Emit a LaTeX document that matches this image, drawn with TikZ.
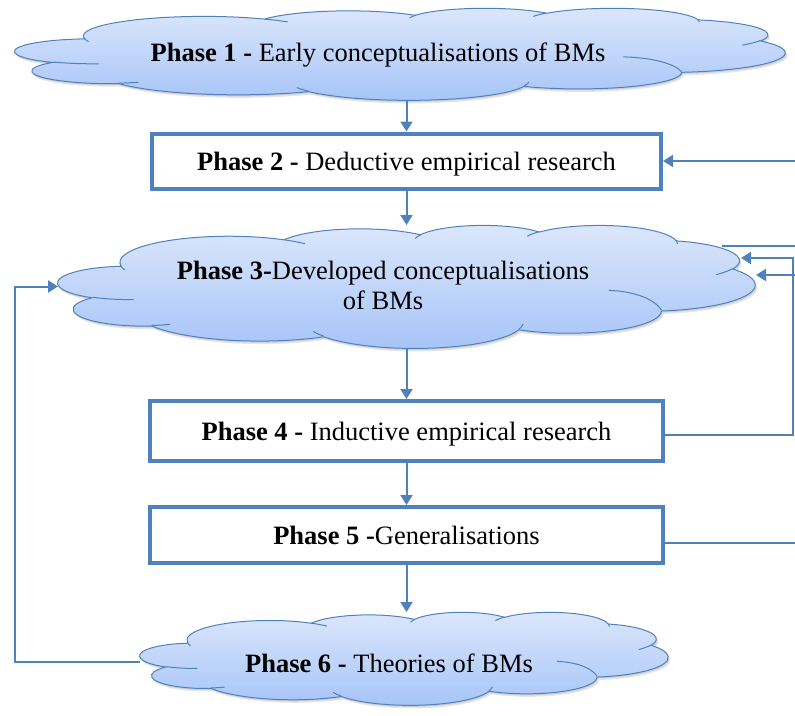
\documentclass[tikz,border=0pt]{standalone}
\usepackage{fontspec}
\setmainfont{Liberation Serif}
\usetikzlibrary{arrows.meta}

\definecolor{edge}{RGB}{79,129,189}
\definecolor{cloudtop}{RGB}{220,231,251}
\definecolor{cloudbot}{RGB}{166,196,248}

\tikzset{
  % elliptical arc given by radii, visual start angle and sweep
  oarc/.style n args={4}{insert path={
    arc[start angle={atan2((#1)*sin(#3),(#2)*cos(#3))},
        delta angle={mod(atan2((#1)*sin((#3)+(#4)),(#2)*cos((#3)+(#4)))-atan2((#1)*sin(#3),(#2)*cos(#3))+720,360)},
        x radius=#1, y radius=#2]}},
  % outline of a cloud in a 43.2 x 43.2 frame, starting at (3.9,14.37)
  cloudbody/.style={insert path={
    [oarc={6.753}{9.190}{-190.4875}{123.7805}]
    [oarc={5.333}{7.267}{-144.1024}{89.9452}]
    [oarc={4.365}{5.945}{-145.8079}{99.7230}]
    [oarc={4.857}{6.595}{-130.9861}{117.2417}]
    [oarc={5.333}{7.273}{-78.7089}{109.0269}]
    [oarc={6.775}{9.220}{-46.2673}{130.2690}]
    [oarc={5.785}{7.867}{0.6250}{114.0333}]
    [oarc={6.752}{9.215}{22.4516}{115.1726}]
    [oarc={7.720}{10.543}{66.2426}{75.7110}]
    [oarc={4.360}{5.918}{-274.9421}{146.7356}]
    [oarc={4.345}{5.945}{-246.8285}{152.5189}]
    -- cycle}},
  % inner creases, starting at (4.693,26.177)
  creases/.style={insert path={
    [oarc={4.345}{5.945}{86.7420}{26.4295}]
    (6.928,34.899) [oarc={4.360}{5.918}{73.6105}{11.4475}]
    (16.478,39.090) [oarc={6.752}{9.215}{137.6242}{14.0811}]
    (28.827,34.751) [oarc={6.752}{9.215}{6.4533}{15.9984}]
    (34.129,22.954) .. controls (35.8,23.3) and (37.0,26.2) .. (37.4,29.9)
    (41.798,15.354) [oarc={5.333}{7.273}{30.3180}{21.4124}]
    (38.324,5.426) [oarc={4.857}{6.595}{-13.7443}{14.8524}]
    (29.078,3.952) [oarc={4.857}{6.595}{-149.1815}{18.1889}]
    (22.141,4.720) [oarc={4.365}{5.945}{-163.4943}{17.6953}]
    (14.000,5.192) [oarc={6.753}{9.190}{-66.7070}{12.3194}]
    (4.127,15.789) [oarc={6.753}{9.190}{157.6544}{11.8582}]}},
  cloudline/.style={draw=edge, line width=1pt},
  phasebox/.style={draw=edge, line width=4pt, fill=white, inner sep=0pt, text depth=0pt},
  phasetext/.style={align=center, inner sep=0pt},
  frame/.style={inner sep=0pt, outer sep=0pt, rectangle},
  arr/.style={draw=edge, line width=2pt, -{Triangle[length=10pt,width=12pt]}},
  link/.style={draw=edge, line width=2pt},
  every node/.style={font=\fontsize{26.5}{30}\selectfont},
}

% cloud named #1 in the frame with top left corner (#2,#3), width #4, height #5
\newcommand\drawcloud[5]{%
  \begin{scope}[shift={(#2+2,#3+3)}, xscale=#4/43.2, yscale=#5/43.2]
    \fill[black, opacity=0.10] (3.9,14.37) [cloudbody];
  \end{scope}
  \begin{scope}[shift={(#2+1,#3+1.5)}, xscale=#4/43.2, yscale=#5/43.2]
    \fill[black, opacity=0.10] (3.9,14.37) [cloudbody];
  \end{scope}
  \begin{scope}[shift={(#2,#3)}, xscale=#4/43.2, yscale=#5/43.2]
    \path[cloudline, top color=cloudtop, bottom color=cloudbot] (3.9,14.37) [cloudbody];
    \draw[cloudline] (4.693,26.177) [creases];
  \end{scope}
  \node[frame, minimum width=#4, minimum height=#5] (#1) at (#2+#4/2,#3+#5/2) {};
}

\begin{document}
\begin{tikzpicture}[x=1pt, y=-1pt]
\useasboundingbox (0,0) rectangle (795,715);

% clouds
\drawcloud{c1}{15}{8}{770}{92}
\drawcloud{c3}{58}{225}{697}{123}
\drawcloud{c6}{140}{612}{528}{93}

\node[phasetext] (t1) at (378,55.5) {\textbf{Phase 1 -} Early conceptualisations of BMs};
\node[phasetext] (t3) at (383,285) {\textbf{Phase 3-}Developed conceptualisations\\of BMs};
\node[phasetext] (t6) at (389,663) {\textbf{Phase 6 -} Theories of BMs};

% boxes
\node[phasebox, minimum width=509, minimum height=55] (b2) at (406.5,161)
  {\textbf{Phase 2 -} Deductive empirical research};
\node[phasebox, minimum width=513, minimum height=60] (b4) at (406.5,431)
  {\textbf{Phase 4 -} Inductive empirical research};
\node[phasebox, minimum width=513, minimum height=56] (b5) at (406.5,535)
  {\textbf{Phase 5 -}Generalisations};

% free ends at the right and left margins
\coordinate (rgt) at (795,0);
\coordinate (lft) at (15,0);
\coordinate (turn) at (793,0);
\coordinate (c3a) at (722,246);
\coordinate (c3b) at (741,258);
\coordinate (c3c) at (756,275);
\coordinate (b4r) at ([yshift=-4pt]b4.east);
\coordinate (b5r) at ([yshift=-8pt]b5.east);
\coordinate (c6l) at ([yshift=-3.5pt]c6.west);

% main flow
\draw[arr] (b2.north |- c1.south) -- (b2.north);
\draw[arr] (b2.south) -- (b2.south |- c3.north);
\draw[arr] (b4.north |- c3.south) -- (b4.north);
\draw[arr] (b4.south) -- (b5.north);
\draw[arr] (b5.south) -- (b5.south |- c6.north);

% feedback loops
\draw[arr] (c6l) -- (c6l -| lft) |- (c3.west);
\draw[arr] (rgt |- b2.east) -- (b2.east);
\draw[link] (rgt |- c3a) -- (c3a);
\draw[arr] (b4r) -| (turn |- c3b) -- (c3b);
\draw[arr] (rgt |- c3c) -- (c3c);
\draw[link] (b5r) -- (rgt |- b5r);
\end{tikzpicture}
\end{document}
